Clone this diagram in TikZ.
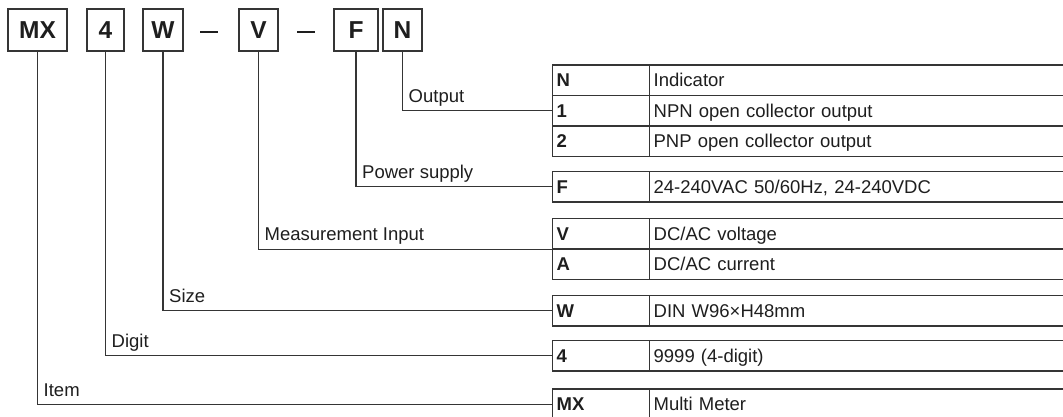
\documentclass[tikz,border=0pt]{standalone}
\usepackage{fontspec}
\setmainfont{Liberation Sans}
\definecolor{ink}{HTML}{1E1E1E}
\definecolor{ln}{HTML}{353535}
\begin{document}
\begin{tikzpicture}[x=1pt,y=-1pt,
  codebox/.style={draw=ln, line width=1.3pt, minimum height=42pt, inner sep=0pt,
    font=\fontsize{24.5}{28}\selectfont\bfseries, text=ink, text height=17.5pt, text depth=0pt},
  cellc/.style={draw=ln, line width=1.3pt, anchor=west, minimum height=30.5pt,
    inner xsep=4pt, inner ysep=0pt, text width=89pt, align=left,
    font=\fontsize{18.5}{21}\selectfont\bfseries, text=ink, text height=13.2pt, text depth=0pt},
  celld/.style={draw=ln, line width=1.3pt, anchor=west, minimum height=30.5pt,
    inner xsep=4pt, inner ysep=0pt, text width=413pt, align=left,
    font=\fontsize{18.5}{21}\selectfont, text=ink, text height=13.2pt, text depth=0pt},
  lbl/.style={anchor=base west, inner sep=0pt, font=\fontsize{18.5}{21}\selectfont, text=ink},
  conn/.style={draw=ln, line width=1.3pt},
  dashbar/.style={draw=ink, line width=2.2pt}
]
\useasboundingbox (0,0) rectangle (1063,417);

% top code boxes
\node[codebox, minimum width=59pt] (bMX) at (37.5,30) {MX};
\node[codebox, minimum width=37pt] (b4) at (105.5,30) {4};
\node[codebox, minimum width=40pt] (bW) at (163,30) {W};
\node[codebox, minimum width=39pt] (bV) at (258.5,30) {V};
\node[codebox, minimum width=44pt] (bF) at (356,30) {F};
\node[codebox, minimum width=39pt] (bN) at (402.5,30) {N};
\draw[dashbar] (200,32) -- (218,32);
\draw[dashbar] (297,32) -- (315,32);

% table groups
\node[cellc] (cN) at (552,80.25) {N};
\node[celld] (dN) at (649,80.25) {Indicator};
\node[cellc] (c1) at (552,110.75) {1};
\node[celld] (d1) at (649,110.75) {NPN open collector output};
\node[cellc] (c2) at (552,141.25) {2};
\node[celld] (d2) at (649,141.25) {PNP open collector output};

\node[cellc] (cF) at (552,186.75) {F};
\node[celld] (dF) at (649,186.75) {24-240VAC 50/60Hz, 24-240VDC};

\node[cellc] (cV) at (552,233.75) {V};
\node[celld] (dV) at (649,233.75) {DC/AC voltage};
\node[cellc] (cA) at (552,264.25) {A};
\node[celld] (dA) at (649,264.25) {DC/AC current};

\node[cellc] (cW) at (552,310.75) {W};
\node[celld] (dW) at (649,310.75) {DIN W96×H48mm};

\node[cellc] (c4) at (552,355.75) {4};
\node[celld] (d4) at (649,355.75) {9999 (4-digit)};

\node[cellc] (cMX) at (552,404.25) {MX};
\node[celld] (dMX) at (649,404.25) {Multi Meter};

% connectors
\draw[conn] (bN.south) |- (c1.west);
\draw[conn] (bF.south) |- (cF.west);
\draw[conn] (bV.south) |- (cV.south west);
\draw[conn] (bW.south) |- (cW.west);
\draw[conn] (b4.south) |- (c4.west);
\draw[conn] (bMX.south) |- (cMX.west);

% labels
\node[lbl] (lOut) at (408.5,102.5) {Output};
\node[lbl] (lPow) at (362,178.5) {Power supply};
\node[lbl] (lMeas) at (264.5,240.5) {Measurement Input};
\node[lbl] (lSize) at (169,302.5) {Size};
\node[lbl] (lDig) at (111.5,347.5) {Digit};
\node[lbl] (lItem) at (43.5,396) {Item};
\end{tikzpicture}
\end{document}
